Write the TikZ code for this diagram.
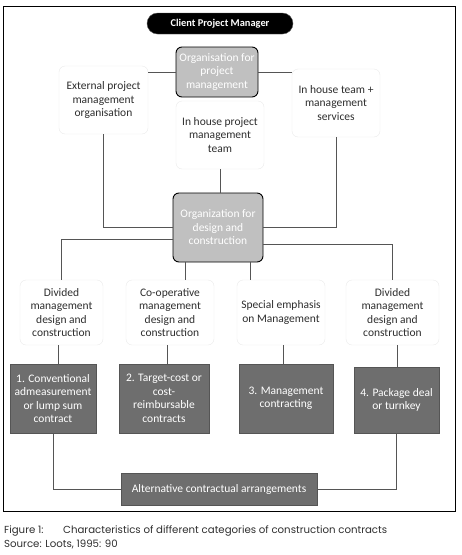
\documentclass[tikz,border=0pt]{standalone}
\usepackage{fontspec}
\setmainfont{Carlito}
\newfontfamily\capfont{Poppins}
\definecolor{lgray}{HTML}{C0C0C0}
\definecolor{dgray}{HTML}{6E6E6E}
\definecolor{dborder}{HTML}{555555}
\definecolor{wborder}{HTML}{EAEAEA}
\definecolor{txt}{HTML}{2E2E2E}
\definecolor{conn}{HTML}{555555}
\tikzset{
  base/.style={align=center, inner sep=1pt, font=\fontsize{11.5}{13.5}\selectfont},
  whitebox/.style={base, draw=wborder, fill=white, rounded corners=6pt, text=txt},
  graybox/.style={base, draw=black, line width=0.9pt, fill=lgray, rounded corners=6pt, text=white},
  darkbox/.style={base, draw=dborder, fill=dgray, text=white},
  pill/.style={base, draw=dborder, fill=black, rounded corners=10.5pt, text=white, font=\fontsize{10.4}{12}\selectfont\bfseries},
  conn/.style={draw=conn, line width=0.8pt},
  caption/.style={anchor=base west, inner sep=0pt, text=txt, font=\capfont\fontsize{10.2}{12}\selectfont},
}
\begin{document}
\begin{tikzpicture}[x=1pt,y=-1pt]
\useasboundingbox (0,0) rectangle (462,555);
\draw[line width=1pt] (3,6) rectangle (455,511);

\node[pill, minimum width=146, minimum height=21] (cpm) at (220,23.5) {Client Project Manager};
\node[graybox, minimum width=82, minimum height=50] (opm) at (217,72) {Organisation for\\project\\management};
\node[whitebox, minimum width=89, minimum height=68] (ext) at (103.5,100) {External project\\management\\organisation};
\node[whitebox, minimum width=88, minimum height=68] (iht) at (220,135) {In house project\\management\\team};
\node[whitebox, minimum width=88, minimum height=68] (ihs) at (336,103) {In house team +\\management\\services};
\node[graybox, minimum width=90, minimum height=69] (odc) at (218,227.5) {Organization for\\design and\\construction};

\node[whitebox, minimum width=83, minimum height=65] (A) at (61.5,312.5) {Divided\\management\\design and\\construction};
\node[whitebox, minimum width=88, minimum height=65] (B) at (170,312.5) {Co-operative\\management\\design and\\construction};
\node[whitebox, minimum width=88, minimum height=65] (C) at (281,312.5) {Special emphasis\\on Management};
\node[whitebox, minimum width=93, minimum height=65] (D) at (392.5,312.5) {Divided\\management\\design and\\construction};

\node[darkbox, minimum width=86, minimum height=69] (n1) at (53,398.5) {1. Conventional\\admeasurement\\or lump sum\\contract};
\node[darkbox, minimum width=90, minimum height=69] (n2) at (164,398.5) {2. Target-cost or\\cost-\\reimbursable\\contracts};
\node[darkbox, minimum width=94, minimum height=69] (n3) at (286,398.5) {3. Management\\contracting};
\node[darkbox, minimum width=85, minimum height=66] (n4) at (396.5,400) {4. Package deal\\or turnkey};
\node[darkbox, minimum width=196, minimum height=32] (alt) at (219,489) {Alternative contractual arrangements};

\draw[conn] (opm.west) -- (opm.west -| ext.east);
\draw[conn] (opm.east) -- (opm.east -| ihs.west);
\draw[conn] (ext.south) |- (odc.west);
\draw[conn] (iht.south) -- (iht.south |- odc.north);
\draw[conn] (ihs.south) |- (odc.east);
\draw[conn] ([yshift=-11.5pt]odc.west) -| (A.north);
\draw[conn] ([yshift=-16.5pt]odc.east) -| (D.north);
\draw[conn] ([xshift=-33pt]odc.south) -- ([xshift=-33pt]odc.south |- B.north);
\draw[conn] ([xshift=32pt]odc.south) -- ([xshift=32pt]odc.south |- C.north);
\draw[conn] ([xshift=-3.5pt]A.south) -- ([xshift=-3.5pt]A.south |- n1.north);
\draw[conn] ([xshift=-3pt]B.south) -- ([xshift=-3pt]B.south |- n2.north);
\draw[conn] ([xshift=2pt]C.south) -- ([xshift=2pt]C.south |- n3.north);
\draw[conn] ([xshift=4.5pt]D.south) -- ([xshift=4.5pt]D.south |- n4.north);
\draw[conn] (n1.south) |- (alt.west);
\draw[conn] (n4.south) |- (alt.east);

\node[caption] (cap1) at (4,533) {Figure 1:};
\node[caption] (cap2) at (63,533) {Characteristics of different categories of construction contracts};
\node[caption] (cap3) at (4,547) {Source: Loots, 1995: 90};
\end{tikzpicture}
\end{document}
